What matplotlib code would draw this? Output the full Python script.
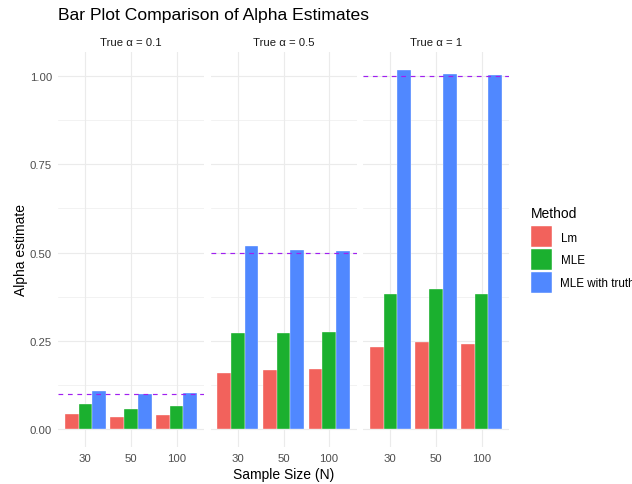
import matplotlib
matplotlib.use("Agg")
import matplotlib.pyplot as plt
from matplotlib.patches import Rectangle
import numpy as np

plt.rcParams["font.family"] = ["Liberation Sans", "DejaVu Sans"]

# data
title = "Bar Plot Comparison of Alpha Estimates"
true_alpha = [0.1, 0.5, 1.0]
facet_labels = ["True α = 0.1", "True α = 0.5", "True α = 1"]
sample_sizes = ["30", "50", "100"]
methods = ["Lm", "MLE", "MLE with truth"]
colors = ["#F2625C", "#1BB02F", "#5088FF"]

# estimates per method, for N = 30, 50, 100
lm_01 = [0.043, 0.035, 0.041]
mle_01 = [0.070, 0.058, 0.065]
truth_01 = [0.108, 0.100, 0.101]

lm_05 = [0.159, 0.166, 0.169]
mle_05 = [0.272, 0.272, 0.275]
truth_05 = [0.519, 0.506, 0.504]

lm_1 = [0.232, 0.246, 0.240]
mle_1 = [0.383, 0.398, 0.383]
truth_1 = [1.017, 1.006, 1.003]

panels = [
    [lm_01, mle_01, truth_01],
    [lm_05, mle_05, truth_05],
    [lm_1, mle_1, truth_1],
]

W, H = 632, 485
fig = plt.figure(figsize=(W / 100, H / 100), dpi=100)
fig.patch.set_facecolor("white")


def px_axes(left, top, width, height):
    return fig.add_axes([left / W, 1 - (top + height) / H, width / W, height / H])


def fx(x):
    return x / W


def fy(y):
    return 1 - y / H


panel_left = [58, 210.5, 363]
panel_top, panel_w, panel_h = 53, 146, 395

ymax = max(max(v) for p in panels for v in p)
ylo, yhi = -0.05 * ymax, 1.05 * ymax

x = np.arange(1, len(sample_sizes) + 1)
bw = 0.3

for i, (vals, alpha, lab) in enumerate(zip(panels, true_alpha, facet_labels)):
    ax = px_axes(panel_left[i], panel_top, panel_w, panel_h)
    ax.set_xlim(0.4, 3.6)
    ax.set_ylim(ylo, yhi)
    for s in ax.spines.values():
        s.set_visible(False)
    ax.set_yticks([0, 0.25, 0.5, 0.75, 1.0])
    ax.set_yticks([0.125, 0.375, 0.625, 0.875], minor=True)
    ax.set_xticks(x)
    ax.set_xticklabels(sample_sizes)
    ax.grid(which="major", color="#EBEBEB", lw=0.85)
    ax.grid(which="minor", axis="y", color="#EBEBEB", lw=0.45)
    ax.set_axisbelow(True)
    ax.tick_params(which="both", length=0, labelsize=8.2, labelcolor="#4D4D4D")
    ax.tick_params(axis="x", pad=4.6)
    ax.tick_params(axis="y", pad=4.3)
    if i == 0:
        ax.set_yticklabels(["0.00", "0.25", "0.50", "0.75", "1.00"])
    else:
        ax.set_yticklabels([])

    for j, v in enumerate(vals):
        ax.bar(x + (j - 1) * bw, v, width=bw, color=colors[j],
               edgecolor="white", linewidth=0.25, zorder=2)
    ax.axhline(alpha, color="#A020F0", lw=0.85, ls=(0, (4, 4)), zorder=3)

    fig.text(fx(panel_left[i] + panel_w / 2), fy(45.7), lab, fontsize=8.2,
             color="#1A1A1A", ha="center", va="baseline")

fig.text(fx(58), fy(20), title, fontsize=12.6, ha="left", va="baseline")
fig.text(fx(283.5), fy(479.3), "Sample Size (N)", fontsize=10, ha="center",
         va="baseline")
fig.text(fx(21), fy(250.5), "Alpha estimate", fontsize=10, ha="center",
         va="center", rotation=90)

# legend
fig.text(fx(531), fy(217.7), "Method", fontsize=10, ha="left", va="baseline")
key_top = [227.3, 250, 272.7]
for k, (m, c) in enumerate(zip(methods, colors)):
    fig.patches.append(Rectangle((fx(531), fy(key_top[k] + 21)), 21 / W, 21 / H,
                                 transform=fig.transFigure, facecolor=c,
                                 edgecolor="white", linewidth=0.3))
    fig.text(fx(560.5), fy(key_top[k] + 10.5 + 3.9), m, fontsize=8.4,
             ha="left", va="baseline")

fig.savefig("out.png", dpi=100)
